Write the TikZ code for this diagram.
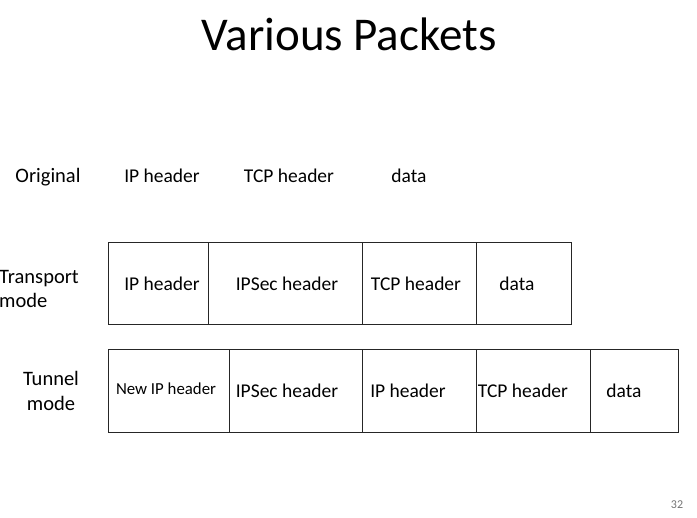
\documentclass[tikz,border=0pt]{standalone}
\usepackage{fontspec}
\setmainfont{Carlito}
\begin{document}
\begin{tikzpicture}[x=1pt,y=-1pt,
  cell/.style={draw=black!85,line width=0.9pt,inner sep=0pt,anchor=north west},
  txt/.style={inner sep=0pt,font=\fontsize{19.5}{23}\selectfont},
  small/.style={inner sep=0pt,font=\fontsize{16.8}{20}\selectfont},
  lbl/.style={inner sep=0pt,font=\fontsize{20.5}{24.5}\selectfont}]
\useasboundingbox (0,0) rectangle (697,518);
\node[inner sep=0pt,font=\fontsize{47}{52}\selectfont] (title) at (349,34) {Various Packets};
% Original
\node[lbl] (orig) at (48,177) {Original};
\node[txt] (o1) at (162,176) {IP header};
\node[txt] (o2) at (289,176) {TCP header};
\node[txt] (o3) at (409,176) {data};
% Transport
\node[lbl,align=left,anchor=west] (trl) at (-1,289) {Transport\\mode};
\node[cell,minimum width=100pt,minimum height=82pt] (t1) at (108,242) {};
\node[cell,minimum width=154pt,minimum height=82pt] (t2) at (208,242) {};
\node[cell,minimum width=114pt,minimum height=82pt] (t3) at (362,242) {};
\node[cell,minimum width=95pt,minimum height=82pt] (t4) at (476,242) {};
\node[txt] (tt1) at (162,284) {IP header};
\node[txt] (tt2) at (287,284) {IPSec header};
\node[txt] (tt3) at (416,284) {TCP header};
\node[txt] (tt4) at (517,284) {data};
% Tunnel
\node[lbl,align=center] (tul) at (51,391) {Tunnel\\mode};
\node[cell,minimum width=121pt,minimum height=83pt] (u1) at (108,349) {};
\node[cell,minimum width=133pt,minimum height=83pt] (u2) at (229,349) {};
\node[cell,minimum width=114pt,minimum height=83pt] (u3) at (362,349) {};
\node[cell,minimum width=114pt,minimum height=83pt] (u4) at (476,349) {};
\node[cell,minimum width=88pt,minimum height=83pt] (u5) at (590,349) {};
\node[small] (ut1) at (166,389) {New IP header};
\node[txt] (ut2) at (287,391) {IPSec header};
\node[txt] (ut3) at (408,391) {IP header};
\node[txt] (ut4) at (523,391) {TCP header};
\node[txt] (ut5) at (624,391) {data};
% page number
\node[inner sep=0pt,font=\fontsize{12}{14}\selectfont,text=black!55] (pg) at (677,505) {32};
\end{tikzpicture}
\end{document}
